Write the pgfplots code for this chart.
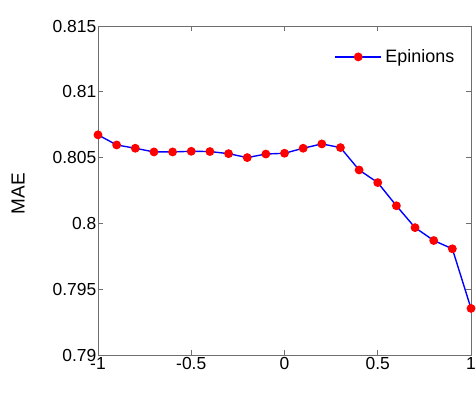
\documentclass[border=0pt]{standalone}
\usepackage{fontspec}
\setmainfont{Liberation Sans}
\usepackage{pgfplots}
\pgfplotsset{compat=1.18}
\definecolor{axgray}{RGB}{110,110,110}
\begin{document}
\begin{tikzpicture}
\useasboundingbox (-98bp,-50bp) rectangle (378bp,355bp);
\begin{axis}[
  at={(0,0)},anchor=south west,
  scale only axis,
  width=373bp,height=329bp,
  xmin=-1,xmax=1,ymin=0.79,ymax=0.815,
  xtick={-1,-0.5,0,0.5,1},
  xticklabels={-1,-0.5,0,0.5,1},
  ytick={0.79,0.795,0.8,0.805,0.81,0.815},
  yticklabels={0.79,0.795,0.8,0.805,0.81,0.815},
  tick align=inside,
  major tick length=5bp,
  axis line style={axgray,line width=1pt},
  every tick/.style={axgray,line width=0.8pt},
  ticklabel style={font=\fontsize{17.5}{18}\selectfont},
  yticklabel style={inner sep=1.5bp},
  xticklabel style={inner sep=2.5bp},
  ylabel={MAE},
  ylabel style={font=\fontsize{19}{20}\selectfont,at={(axis description cs:-0.2145,0.49)},anchor=center,rotate=0},
  legend style={draw=none,fill=none,font=\fontsize{18}{20}\selectfont,
    at={(axis description cs:0.965,0.906)},anchor=east,inner sep=0pt,
    nodes={inner xsep=3.5bp}},
  legend cell align=left,
  legend image code/.code={\draw[mark repeat=2,mark phase=2,#1] plot coordinates {(0bp,0bp)(23bp,0bp)(46bp,0bp)};},
]
\addplot[color={rgb,1:red,0;green,0;blue,1},line width=1.4pt,mark=*,
  mark options={draw=red,fill=red,scale=1.85}] coordinates {
(-1.0,0.80673) (-0.9,0.80596) (-0.8,0.80571) (-0.7,0.80543) (-0.6,0.80543)
(-0.5,0.80548) (-0.4,0.80546) (-0.3,0.80530) (-0.2,0.80500) (-0.1,0.80527)
(0.0,0.80533) (0.1,0.80571) (0.2,0.80604) (0.3,0.80576) (0.4,0.80406)
(0.5,0.80310) (0.6,0.80134) (0.7,0.79968) (0.8,0.79870) (0.9,0.79807)
(1.0,0.79354)};
\addlegendentry{Epinions}
\end{axis}
\end{tikzpicture}
\end{document}
